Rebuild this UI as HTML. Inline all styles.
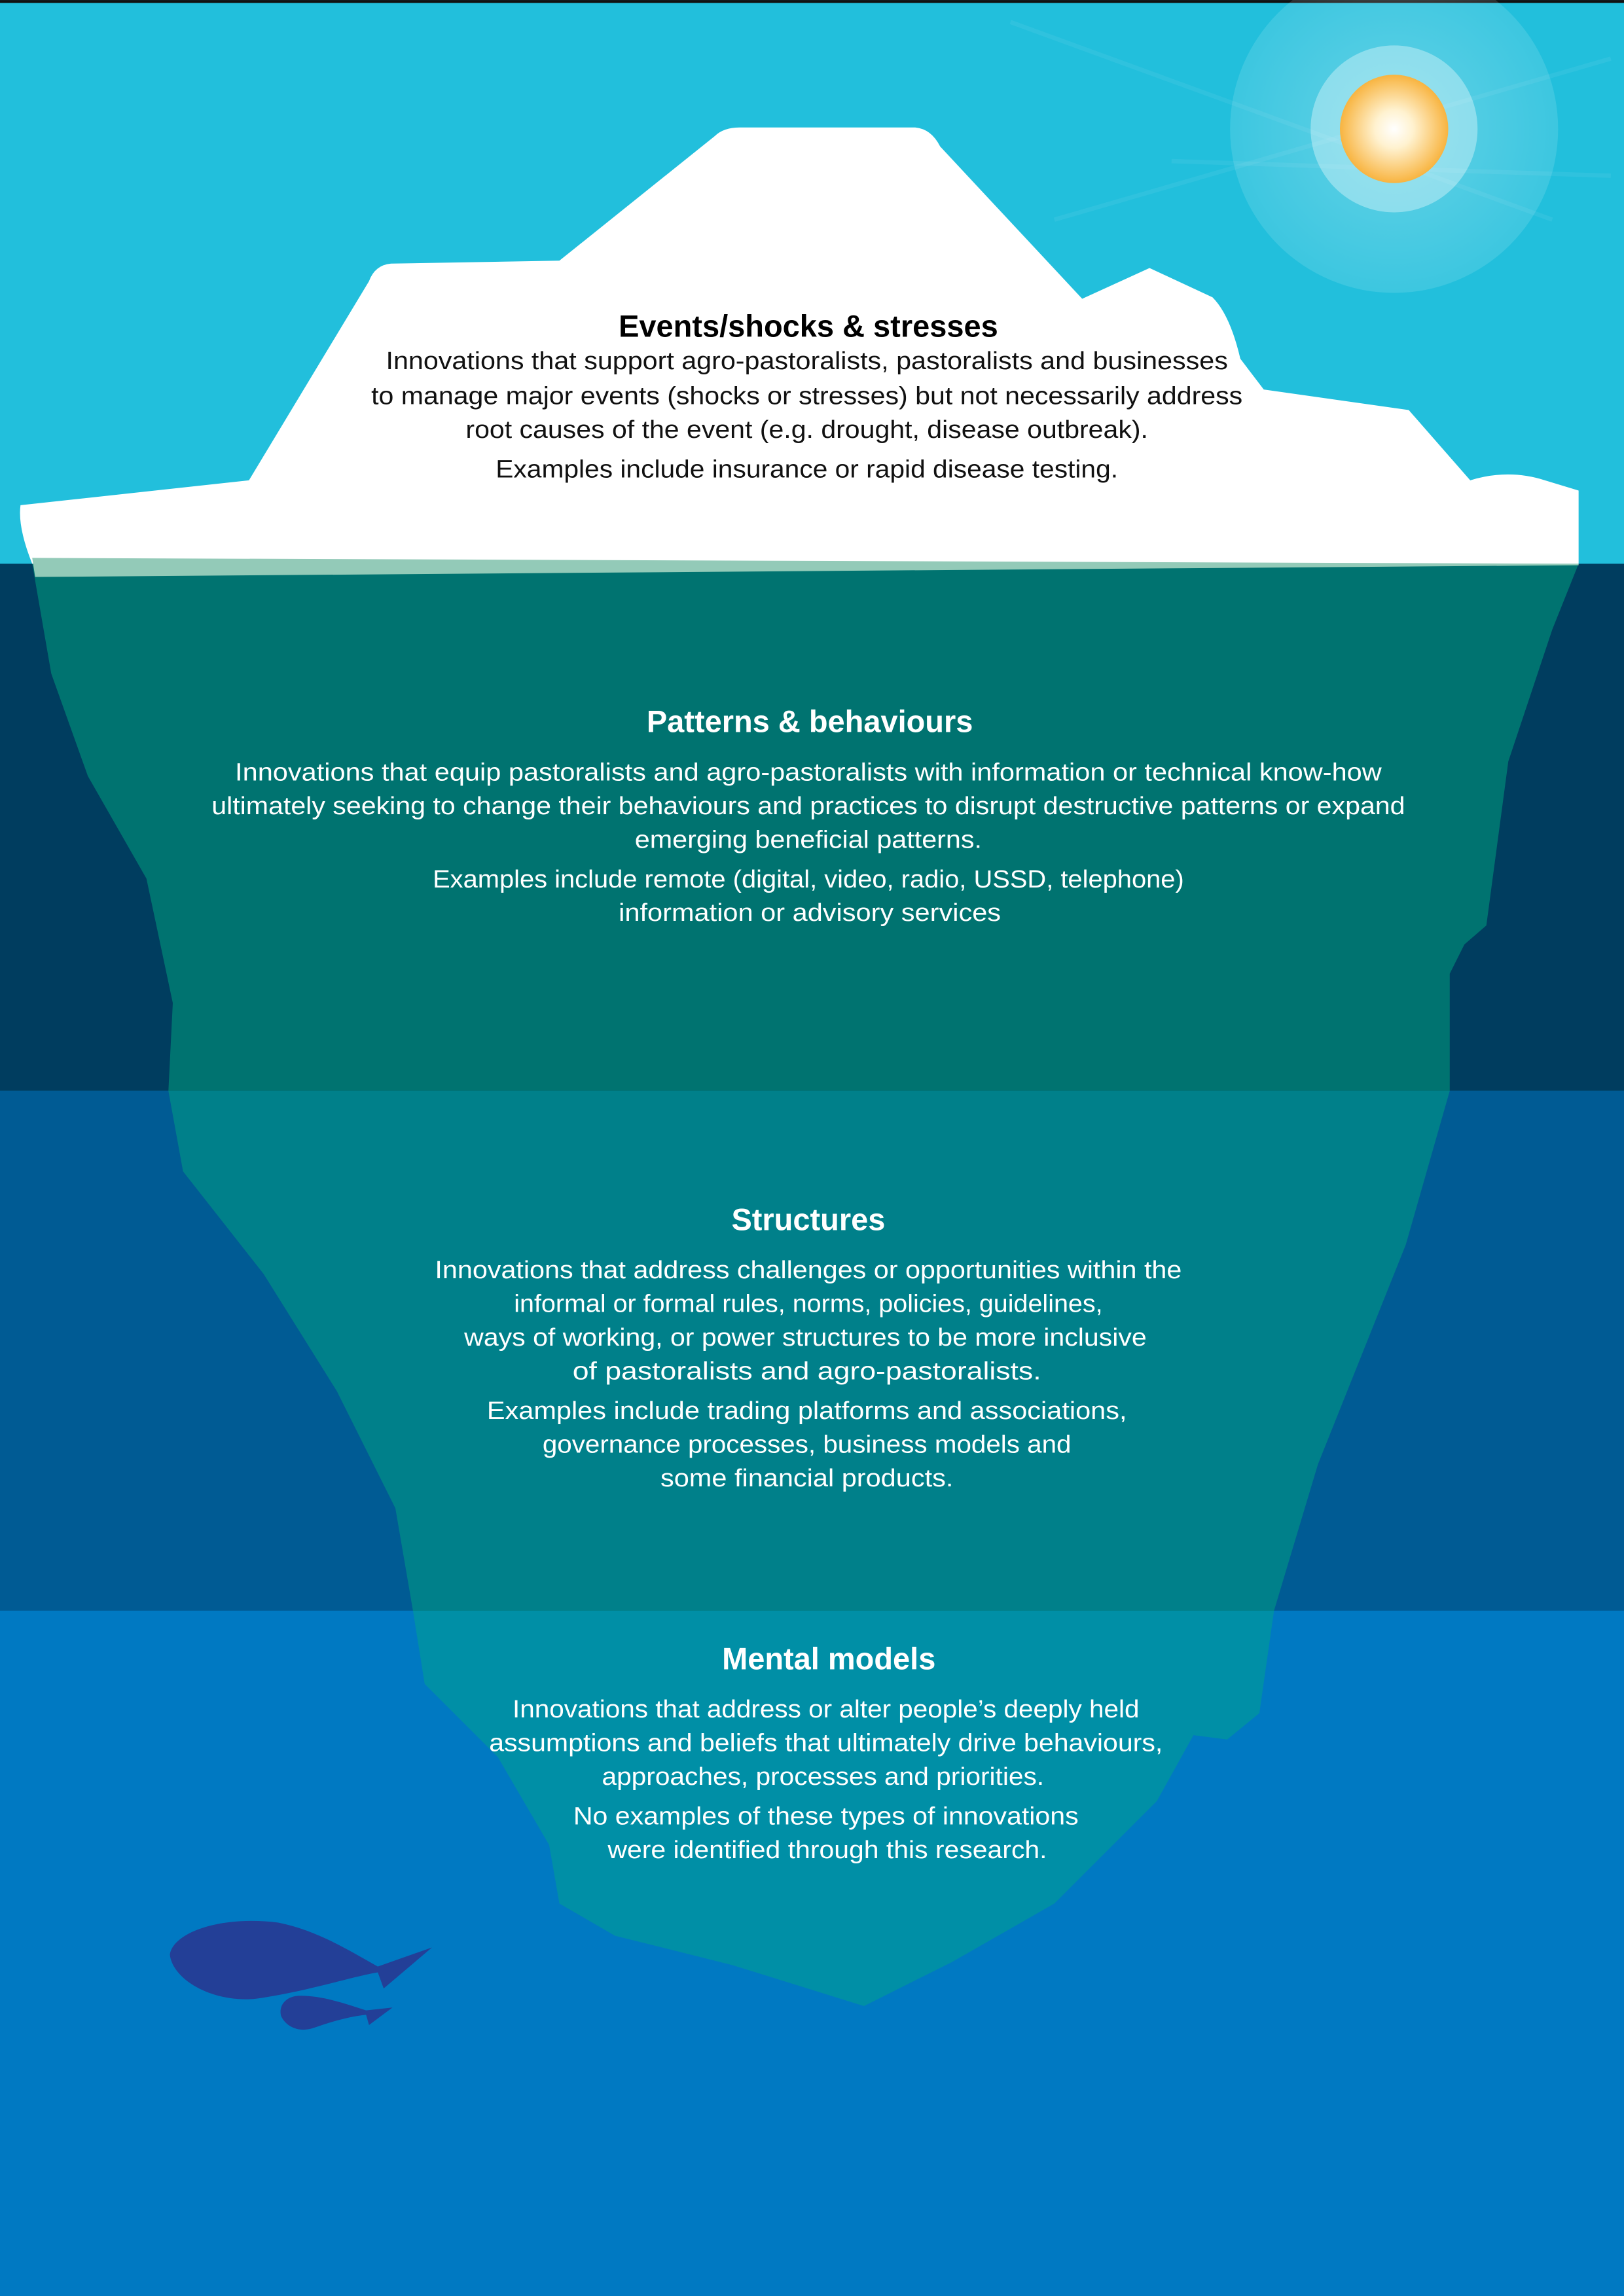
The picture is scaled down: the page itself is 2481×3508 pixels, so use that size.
<!DOCTYPE html>
<html><head><meta charset="utf-8"><style>
html,body{margin:0;padding:0;background:#0079c2}
svg{display:block}
text{font-family:"Liberation Sans",sans-serif}
</style></head><body>
<svg width="2481" height="3508" viewBox="0 0 1109 1568" xmlns="http://www.w3.org/2000/svg">
<defs>
<radialGradient id="sun" cx="50%" cy="50%" r="50%">
<stop offset="0" stop-color="#ffffff"/><stop offset="0.35" stop-color="#fff2d0"/><stop offset="1" stop-color="#f8b440"/>
</radialGradient>
<radialGradient id="glow" cx="50%" cy="50%" r="50%">
<stop offset="0" stop-color="#ffffff" stop-opacity="0.3"/><stop offset="1" stop-color="#ffffff" stop-opacity="0.12"/>
</radialGradient>
<clipPath id="c2"><rect x="0" y="385" width="1109" height="360"/></clipPath>
<clipPath id="c3"><rect x="0" y="745" width="1109" height="355"/></clipPath>
<clipPath id="c4"><rect x="0" y="1100" width="1109" height="468"/></clipPath>
<path id="berg" d="M22,385 L35,460 L60,530 L100,600 L118,685 L115,745 L125,800 L180,870 L230,950 L270,1030 L282,1100 L290,1150 L340,1200 L375,1260 L382,1300 L420,1322 L500,1342 L590,1370 L650,1340 L720,1300 L790,1230 L815,1185 L838,1188 L860,1170 L870,1100 L900,1000 L960,850 L990,745 L990,665 L1000,645 L1015,632 L1030,520 L1060,430 L1078,385 Z"/>
</defs>
<rect x="0" y="0" width="1109" height="385" fill="#22bfdc"/>
<rect x="0" y="0" width="1109" height="2" fill="#111"/>
<rect x="0" y="385" width="1109" height="360" fill="#003d5f"/>
<rect x="0" y="745" width="1109" height="355" fill="#005b94"/>
<rect x="0" y="1100" width="1109" height="468" fill="#0079c2"/>
<!-- sun -->
<g stroke="#ffffff" stroke-opacity="0.06" stroke-width="3">
<line x1="690" y1="15" x2="1060" y2="150"/><line x1="720" y1="150" x2="1100" y2="40"/><line x1="800" y1="110" x2="1100" y2="120"/>
</g>
<circle cx="952" cy="88" r="112" fill="url(#glow)"/>
<circle cx="952" cy="88" r="57" fill="#ffffff" fill-opacity="0.35"/>
<circle cx="952" cy="88" r="37" fill="url(#sun)"/>
<!-- underwater berg -->
<use href="#berg" fill="#007370" clip-path="url(#c2)"/>
<use href="#berg" fill="#00808a" clip-path="url(#c3)"/>
<use href="#berg" fill="#008fa6" clip-path="url(#c4)"/>
<!-- above water -->
<path d="M14,345 L170,328 L252,192 Q256,181 267,180 L382,178 L488,93 Q494,87 505,87 L625,87 Q636,88 642,100 L739,204 L785,183 L828,203 Q840,215 847,245 L863,266 L962,280 L1004,328 Q1030,320 1055,328 L1078,335 L1078,385 L22,385 Q12,360 14,345 Z" fill="#ffffff"/>
<polygon points="22,381 1078,385 1078,386 24,394" fill="#93cab8"/>
<!-- fish -->
<path d="M190,1313 C150,1308 118,1320 116,1335 C118,1352 145,1368 175,1365 C210,1360 240,1350 258,1347 L262,1358 L295,1330 L258,1343 C235,1330 215,1318 190,1313 Z" fill="#233f97"/>
<path d="M205,1363 C195,1363 190,1370 192,1377 C196,1385 205,1388 214,1385 C228,1380 240,1377 250,1376 L252,1383 L268,1371 L250,1373 C235,1368 220,1363 205,1363 Z" fill="#233f97"/>
<!-- text -->
<g text-anchor="middle">
<text x="552" y="230" font-size="21" font-weight="bold" fill="#000">Events/shocks &amp; stresses</text>
<g font-size="17" fill="#111">
<text x="551" y="252" textLength="575" lengthAdjust="spacingAndGlyphs">Innovations that support agro-pastoralists, pastoralists and businesses</text>
<text x="551" y="276" textLength="595" lengthAdjust="spacingAndGlyphs">to manage major events (shocks or stresses) but not necessarily address</text>
<text x="551" y="299" textLength="466" lengthAdjust="spacingAndGlyphs">root causes of the event (e.g. drought, disease outbreak).</text>
<text x="551" y="326" textLength="425" lengthAdjust="spacingAndGlyphs">Examples include insurance or rapid disease testing.</text>
</g>
<g fill="#ffffff">
<text x="553" y="500" font-size="21" font-weight="bold">Patterns &amp; behaviours</text>
<g font-size="17">
<text x="552" y="533" textLength="783" lengthAdjust="spacingAndGlyphs">Innovations that equip pastoralists and agro-pastoralists with information or technical know-how</text>
<text x="552" y="556" textLength="815" lengthAdjust="spacingAndGlyphs">ultimately seeking to change their behaviours and practices to disrupt destructive patterns or expand</text>
<text x="552" y="579" textLength="237" lengthAdjust="spacingAndGlyphs">emerging beneficial patterns.</text>
<text x="552" y="606" textLength="513" lengthAdjust="spacingAndGlyphs">Examples include remote (digital, video, radio, USSD, telephone)</text>
<text x="553" y="629" textLength="261" lengthAdjust="spacingAndGlyphs">information or advisory services</text>
</g>
<text x="552" y="840" font-size="21" font-weight="bold">Structures</text>
<g font-size="17">
<text x="552" y="873" textLength="510" lengthAdjust="spacingAndGlyphs">Innovations that address challenges or opportunities within the</text>
<text x="552" y="896" textLength="402" lengthAdjust="spacingAndGlyphs">informal or formal rules, norms, policies, guidelines,</text>
<text x="550" y="919" textLength="466" lengthAdjust="spacingAndGlyphs">ways of working, or power structures to be more inclusive</text>
<text x="551" y="942" textLength="320" lengthAdjust="spacingAndGlyphs">of pastoralists and agro-pastoralists.</text>
<text x="551" y="969" textLength="437" lengthAdjust="spacingAndGlyphs">Examples include trading platforms and associations,</text>
<text x="551" y="992" textLength="361" lengthAdjust="spacingAndGlyphs">governance processes, business models and</text>
<text x="551" y="1015" textLength="200" lengthAdjust="spacingAndGlyphs">some financial products.</text>
</g>
<text x="566" y="1140" font-size="21" font-weight="bold">Mental models</text>
<g font-size="17">
<text x="564" y="1173" textLength="428" lengthAdjust="spacingAndGlyphs">Innovations that address or alter people’s deeply held</text>
<text x="564" y="1196" textLength="460" lengthAdjust="spacingAndGlyphs">assumptions and beliefs that ultimately drive behaviours,</text>
<text x="562" y="1219" textLength="302" lengthAdjust="spacingAndGlyphs">approaches, processes and priorities.</text>
<text x="564" y="1246" textLength="345" lengthAdjust="spacingAndGlyphs">No examples of these types of innovations</text>
<text x="565" y="1269" textLength="300" lengthAdjust="spacingAndGlyphs">were identified through this research.</text>
</g>
</g>
</g>
</svg>
</body></html>
